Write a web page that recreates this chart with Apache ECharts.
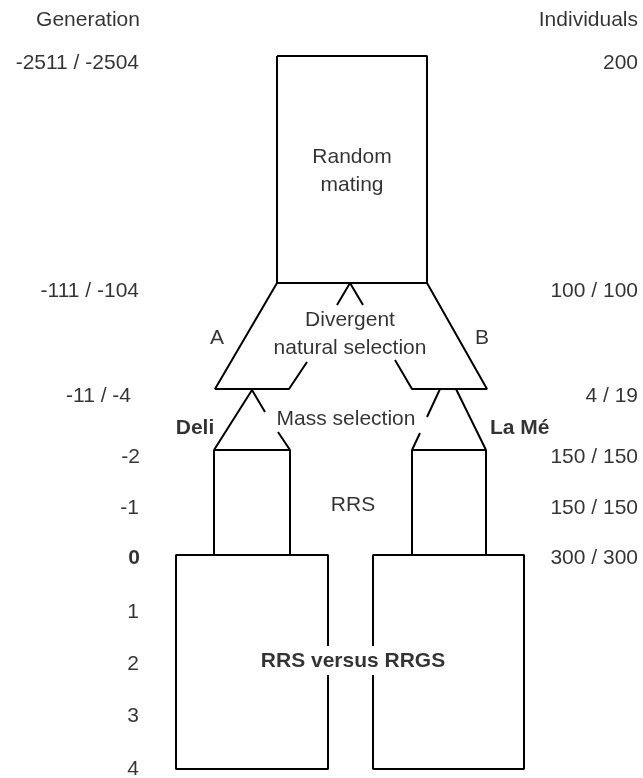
<!DOCTYPE html>
<html>
<head>
<meta charset="utf-8">
<script src="https://cdn.jsdelivr.net/npm/echarts@6/dist/echarts.min.js"></script>
<style>
html,body{margin:0;padding:0;background:#fff;}
#chart{width:643px;height:778px;}
</style>
</head>
<body>
<div id="chart"></div>
<script>
// ---- data ----
const headerLeft = 'Generation';
const headerRight = 'Individuals';
const generationLabels = ['-2511 / -2504', '-111 / -104', '-11 / -4', '-2', '-1', '0', '1', '2', '3', '4'];
const individualLabels = ['200', '100 / 100', '4 / 19', '150 / 150', '150 / 150', '300 / 300'];
const stageLabels = ['Random\nmating', 'Divergent\nnatural selection', 'Mass selection', 'RRS', 'RRS versus RRGS'];
const branchLabels = ['A', 'B'];
const populationLabels = ['Deli', 'La Mé'];

// diagram outlines (diagram coordinates: x across, y down)
const randomMatingBox = [[277,56],[427,56],[427,283],[277,283],[277,56]];
const caret = [[337,305],[350,283],[363,305]];
const trapezoidA = [[277,283],[215,389],[289,389],[307,362]];
const trapezoidB = [[427,283],[487,389],[412,389],[395,360]];
const deliTriangleTop = [[265,412],[252,390],[214,450],[290,450],[278,432]];
const lameTriangleTop = [[440,389],[427,417]];
const lameTriangleRest = [[420,433],[412,450],[486,450],[456,389]];
const deliStemLeft = [[214,450],[214,555]];
const deliStemRight = [[290,450],[290,555]];
const lameStemLeft = [[412,450],[412,555]];
const lameStemRight = [[486,450],[486,555]];
const leftBox = [[328,646],[328,555],[176,555],[176,769],[328,769],[328,675]];
const rightBox = [[373,646],[373,555],[524,555],[524,769],[373,769],[373,675]];

// ---- layout ----
const rowY = [63, 291, 396, 457, 508, 558, 612, 664, 716, 769];
const genRightX = [139, 139, 131, 140, 139, 140, 139, 139, 139, 139];
const indRows = [0, 1, 2, 3, 4, 5];
const FONT = '"Liberation Sans", Arial, sans-serif';
const FS = 21;

const outlines = [randomMatingBox, caret, trapezoidA, trapezoidB, deliTriangleTop,
  lameTriangleTop, lameTriangleRest, deliStemLeft, deliStemRight, lameStemLeft,
  lameStemRight, leftBox, rightBox];

const series = outlines.map(pts => ({
  type: 'line', data: pts, symbol: 'none', silent: true, animation: false,
  lineStyle: {color: '#000', width: 2}, z: 2
}));

function textSeries(items, align) {
  return {
    type: 'scatter', symbolSize: 0, silent: true, animation: false, z: 3,
    data: items.map(it => ({
      value: [it.x, it.y],
      label: {
        show: true, formatter: it.text, position: [0, 0], align: align || 'center',
        verticalAlign: 'middle', color: '#000', fontFamily: FONT, fontSize: FS,
        fontWeight: it.bold ? 'bold' : 'normal', lineHeight: it.lh || 28
      }
    }))
  };
}

const leftItems = generationLabels.map((t, i) => ({text: t, x: genRightX[i], y: rowY[i], bold: t === '0'}));
const rightItems = individualLabels.map((t, i) => ({text: t, x: 638, y: rowY[indRows[i]]}));
rightItems.push({text: headerRight, x: 638, y: 20});

const centerItems = [
  {text: headerLeft, x: 88, y: 20},
  {text: stageLabels[0], x: 352, y: 171},
  {text: stageLabels[1], x: 350, y: 334, lh: 28},
  {text: stageLabels[2], x: 346, y: 419},
  {text: stageLabels[3], x: 353, y: 505},
  {text: stageLabels[4], x: 353, y: 661, bold: true},
  {text: branchLabels[0], x: 217, y: 338},
  {text: branchLabels[1], x: 482, y: 338},
  {text: populationLabels[0], x: 195, y: 428, bold: true}
];
const lameItem = [{text: populationLabels[1], x: 490, y: 428, bold: true}];

series.push(textSeries(leftItems, 'right'));
series.push(textSeries(rightItems, 'right'));
series.push(textSeries(centerItems, 'center'));
series.push(textSeries(lameItem, 'left'));

const chart = echarts.init(document.getElementById('chart'), null, {renderer: 'canvas'});
chart.setOption({
  backgroundColor: '#fff',
  animation: false,
  grid: {left: 0, right: 0, top: 0, bottom: 0},
  xAxis: {type: 'value', min: 0, max: 643, show: false},
  yAxis: {type: 'value', min: 0, max: 778, inverse: true, show: false},
  series: series
});
</script>
</body>
</html>
